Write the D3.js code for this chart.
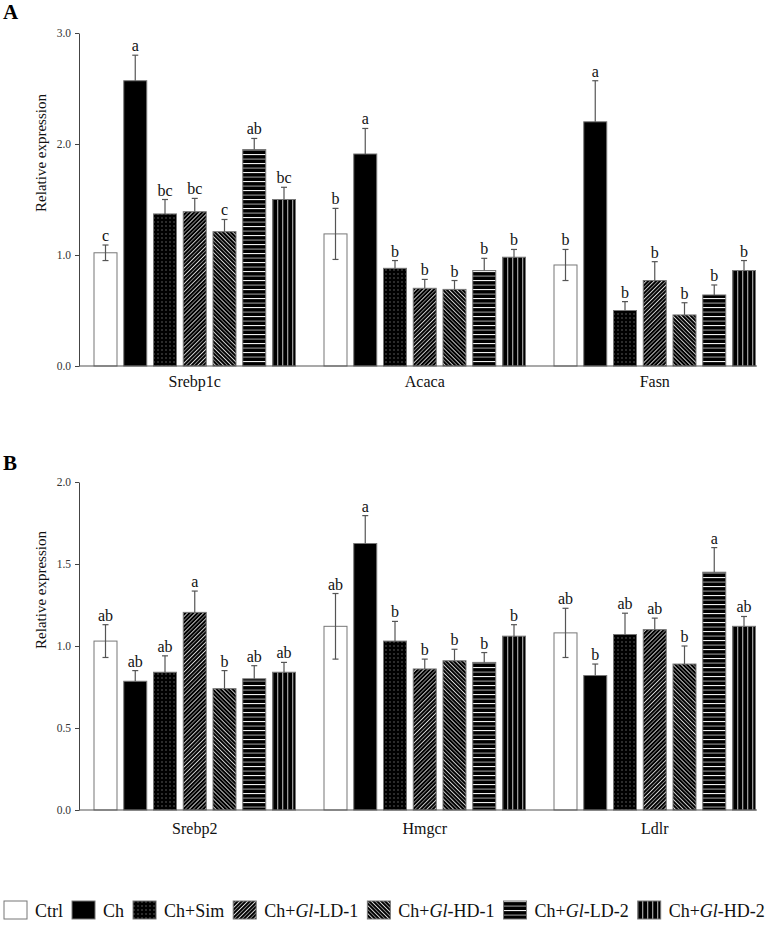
<!DOCTYPE html>
<head>
<meta charset="utf-8">
<script src="https://d3js.org/d3.v7.min.js"></script>
<style>
body { margin: 0; background: #fff; }
svg text { font-family: "Liberation Serif", "Times New Roman", Times, serif; }
.tick-label { font-size: 11.5px; fill: #333; }
.gene { font-size: 16px; fill: #111; }
.sig { font-size: 16px; fill: #111; }
.ytitle { font-size: 15px; fill: #111; }
.panel { font-size: 21px; font-weight: bold; }
.legend text { font-size: 18px; fill: #111; }
</style>
</head>
<body>
<svg id="chart" width="771" height="925" font-family="Liberation Serif"></svg>
<script>
// treatment groups (legend order)
var groups = ["Ctrl", "Ch", "Sim", "LD1", "HD1", "LD2", "HD2"];
var groupLabels = [["Ctrl"], ["Ch"], ["Ch+Sim"], ["Ch+", "Gl", "-LD-1"],
    ["Ch+", "Gl", "-HD-1"], ["Ch+", "Gl", "-LD-2"], ["Ch+", "Gl", "-HD-2"]];

// panel A
var genesA = ["Srebp1c", "Acaca", "Fasn"];
var meanA = [[1.02, 2.57, 1.37, 1.39, 1.21, 1.95, 1.50],
             [1.19, 1.91, 0.88, 0.70, 0.69, 0.86, 0.98],
             [0.91, 2.20, 0.50, 0.77, 0.46, 0.64, 0.86]];
var errA = [[0.07, 0.23, 0.13, 0.12, 0.11, 0.10, 0.11],
            [0.23, 0.23, 0.07, 0.08, 0.08, 0.11, 0.07],
            [0.14, 0.37, 0.08, 0.17, 0.11, 0.09, 0.09]];
var sigA = [["c", "a", "bc", "bc", "c", "ab", "bc"],
            ["b", "a", "b", "b", "b", "b", "b"],
            ["b", "a", "b", "b", "b", "b", "b"]];
var ticksA = [0, 1, 2, 3];

// panel B
var genesB = ["Srebp2", "Hmgcr", "Ldlr"];
var meanB = [[1.03, 0.785, 0.84, 1.205, 0.74, 0.80, 0.84],
             [1.12, 1.625, 1.03, 0.86, 0.91, 0.90, 1.06],
             [1.08, 0.82, 1.07, 1.10, 0.89, 1.45, 1.12]];
var errB = [[0.10, 0.065, 0.10, 0.13, 0.11, 0.08, 0.06],
            [0.20, 0.17, 0.12, 0.06, 0.07, 0.06, 0.07],
            [0.15, 0.07, 0.13, 0.07, 0.11, 0.15, 0.06]];
var sigB = [["ab", "ab", "ab", "a", "b", "ab", "ab"],
            ["ab", "a", "b", "b", "b", "b", "b"],
            ["ab", "b", "ab", "ab", "b", "a", "ab"]];
var ticksB = [0, 0.5, 1, 1.5, 2];

var FONT = "Liberation Serif";
var svg = d3.select("#chart");
var defs = svg.append("defs");

// fill patterns
function pattern(id, w, h, rot) {
    var p = defs.append("pattern").attr("id", id)
        .attr("patternUnits", "userSpaceOnUse")
        .attr("width", w).attr("height", h);
    if (rot) p.attr("patternTransform", "rotate(" + rot + ")");
    p.append("rect").attr("width", w).attr("height", h).attr("fill", "#000");
    return p;
}
var p = pattern("pSim", 4, 4);
p.append("rect").attr("x", 1.5).attr("y", 1.5).attr("width", 1).attr("height", 1).attr("fill", "#aaa");

p = pattern("pLD1", 5.6, 5.6, 45);
p.append("rect").attr("x", 0).attr("width", 0.9).attr("height", 5.6).attr("fill", "#ddd");
p.append("rect").attr("x", 2.8).attr("width", 0.9).attr("height", 5.6).attr("fill", "#888");

p = pattern("pHD1", 5.6, 5.6, -45);
p.append("rect").attr("x", 0).attr("width", 0.9).attr("height", 5.6).attr("fill", "#ddd");
p.append("rect").attr("x", 2.8).attr("width", 0.9).attr("height", 5.6).attr("fill", "#888");

p = pattern("pLD2", 10, 9);
p.append("rect").attr("y", 1).attr("width", 10).attr("height", 1.1).attr("fill", "#eee");
p.append("rect").attr("y", 5.5).attr("width", 10).attr("height", 1.2).attr("fill", "#888");

p = pattern("pHD2", 5, 10);
p.append("rect").attr("x", 2).attr("width", 1.3).attr("height", 10).attr("fill", "#999");

var fills = {Ctrl: "#fff", Ch: "#000", Sim: "url(#pSim)", LD1: "url(#pLD1)",
    HD1: "url(#pHD1)", LD2: "url(#pLD2)", HD2: "url(#pHD2)"};

var inner = d3.scaleBand().domain(groups).range([15, 216.5]).paddingInner(0.227);

function drawPanel(letter, letterY, genes, means, errs, sigs, ticks, yTop, yBottom, maxV, titleY, geneY) {
    var g = svg.append("g").attr("font-family", FONT);
    var x = d3.scaleBand().domain(genes).range([79, 769]);
    var y = d3.scaleLinear().domain([0, maxV]).range([yBottom, yTop]);

    g.append("text").attr("class", "panel").attr("x", 3).attr("y", letterY).text(letter);

    // y axis
    var yaxis = d3.axisLeft(y).tickValues(ticks).tickFormat(d3.format(".1f")).tickSize(4).tickSizeOuter(0);
    var ya = g.append("g").attr("transform", "translate(79,0)").call(yaxis)
        .attr("font-family", FONT).attr("font-size", null);
    ya.select(".domain").attr("stroke", "#444");
    ya.selectAll(".tick line").attr("stroke", "#444");
    ya.selectAll(".tick text").attr("class", "tick-label").attr("fill", "#333").attr("dx", "-1");

    g.append("text").attr("class", "ytitle")
        .attr("transform", "translate(43," + titleY + ") rotate(-90)")
        .attr("text-anchor", "middle").attr("dominant-baseline", "middle")
        .text("Relative expression");

    genes.forEach(function (gene, gi) {
        var gx = x(gene);
        groups.forEach(function (grp, k) {
            var v = means[gi][k], e = errs[gi][k];
            var bx = gx + inner(grp), bw = inner.bandwidth();
            var cx = bx + bw / 2;
            g.append("rect")
                .attr("x", bx).attr("y", y(v))
                .attr("width", bw).attr("height", y(0) - y(v))
                .attr("fill", fills[grp])
                .attr("stroke", "#777").attr("stroke-width", 1);
            var lo = grp === "Ctrl" ? v - e : v;
            g.append("line").attr("x1", cx).attr("x2", cx)
                .attr("y1", y(v + e)).attr("y2", y(lo))
                .attr("stroke", "#555").attr("stroke-width", 1.2);
            g.append("line").attr("x1", cx - 3).attr("x2", cx + 3)
                .attr("y1", y(v + e)).attr("y2", y(v + e))
                .attr("stroke", "#555").attr("stroke-width", 1.2);
            if (grp === "Ctrl") {
                g.append("line").attr("x1", cx - 3).attr("x2", cx + 3)
                    .attr("y1", y(v - e)).attr("y2", y(v - e))
                    .attr("stroke", "#555").attr("stroke-width", 1.2);
            }
            g.append("text").attr("class", "sig")
                .attr("x", cx).attr("y", y(v + e) - 4)
                .attr("text-anchor", "middle").text(sigs[gi][k]);
        });
        g.append("text").attr("class", "gene")
            .attr("x", gx + 15 + (216.5 - 15) / 2).attr("y", geneY)
            .attr("text-anchor", "middle").text(gene);
    });

    // x axis line
    g.append("line").attr("x1", 79).attr("x2", 757)
        .attr("y1", y(0)).attr("y2", y(0))
        .attr("stroke", "#555").attr("stroke-width", 1.2);
}

drawPanel("A", 19, genesA, meanA, errA, sigA, ticksA, 33, 366, 3, 153, 387);
drawPanel("B", 470, genesB, meanB, errB, sigB, ticksB, 482, 810, 2, 590, 834);

// legend
var leg = svg.append("g").attr("class", "legend").attr("font-family", FONT);
var lx = 4;
groups.forEach(function (grp, k) {
    leg.append("rect").attr("x", lx).attr("y", 901).attr("width", 23).attr("height", 18)
        .attr("fill", fills[grp]).attr("stroke", "#777").attr("stroke-width", 1);
    var t = leg.append("text").attr("x", lx + 31).attr("y", 917);
    groupLabels[k].forEach(function (part, j) {
        t.append("tspan").attr("font-style", j === 1 ? "italic" : null).text(part);
    });
    lx = lx + 31 + t.node().getComputedTextLength() + 9;
});
</script>
</body>
